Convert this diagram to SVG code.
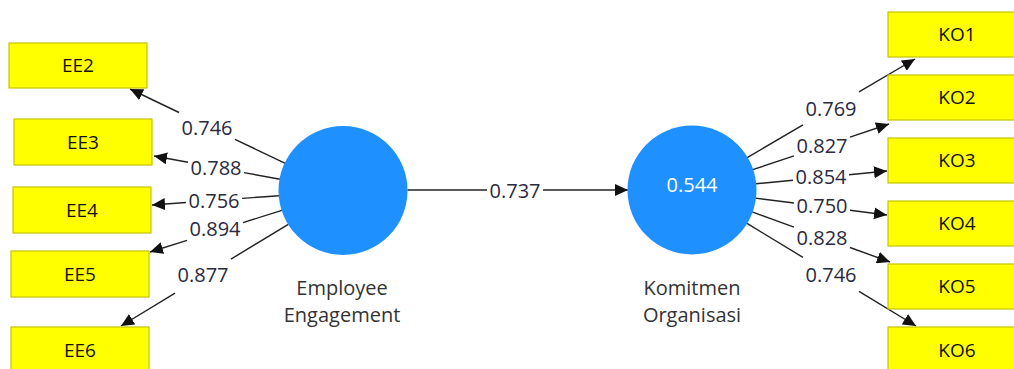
<svg xmlns="http://www.w3.org/2000/svg" width="1014" height="369" viewBox="0 0 1014 369">
<defs>
<style>
.box{fill:#ffff00;stroke:#c4c400;stroke-width:1.2}
.bt{font-family:"Open Sans","Noto Sans",sans-serif;font-size:19px;fill:#111;text-anchor:middle}
.lv{fill:#1e90ff}
.nt{font-family:"Open Sans","Noto Sans",sans-serif;font-size:20px;fill:#333;text-anchor:middle}
.lb{font-family:"Open Sans","Noto Sans",sans-serif;font-size:20px;fill:#2a2a40;text-anchor:middle}
.ln{stroke:#222;stroke-width:1.4;fill:none}
.ar{stroke:#222;stroke-width:1.4;fill:none;marker-end:url(#ah)}
</style>
<marker id="ah" viewBox="0 0 13 12" refX="13" refY="6" markerWidth="13" markerHeight="12" markerUnits="userSpaceOnUse" orient="auto">
<path d="M0,0 L13,6 L0,12 Z" fill="#111"/>
</marker>
</defs>
<rect width="1014" height="369" fill="#fff"/>
<g id="connectors">
<line class="ln" x1="285.3" y1="163.4" x2="235" y2="139.3"/><line class="ar" x1="179" y1="112.5" x2="130" y2="89"/>
<line class="ln" x1="280.1" y1="179.3" x2="244" y2="172.6"/><line class="ar" x1="188" y1="162.3" x2="154" y2="156"/>
<line class="ln" x1="279.2" y1="195.7" x2="242" y2="198.4"/><line class="ar" x1="186" y1="202.5" x2="152" y2="205"/>
<line class="ln" x1="281.9" y1="210.3" x2="243" y2="222.6"/><line class="ar" x1="187" y1="240.3" x2="150" y2="252"/>
<line class="ln" x1="288.3" y1="224.3" x2="231" y2="259.1"/><line class="ar" x1="175" y1="293.2" x2="121" y2="326"/>
<line class="ln" x1="407.5" y1="190" x2="487" y2="190"/><line class="ar" x1="543" y1="190" x2="628" y2="190"/>
<line class="ln" x1="747.2" y1="157.6" x2="803" y2="124.8"/><line class="ar" x1="859" y1="91.9" x2="915" y2="59"/>
<line class="ln" x1="752.7" y1="169.7" x2="794" y2="155.9"/><line class="ar" x1="850" y1="137.1" x2="889" y2="124"/>
<line class="ln" x1="755.7" y1="183.8" x2="793" y2="180.2"/><line class="ar" x1="849" y1="174.7" x2="887" y2="171"/>
<line class="ln" x1="755.5" y1="198.1" x2="794" y2="203"/><line class="ar" x1="850" y1="210.2" x2="887" y2="215"/>
<line class="ln" x1="752.1" y1="211.9" x2="794" y2="227.1"/><line class="ar" x1="850" y1="247.5" x2="890" y2="262"/>
<line class="ln" x1="746.7" y1="223.2" x2="803" y2="257.4"/><line class="ar" x1="859" y1="291.3" x2="916" y2="326"/>
<text class="lb" x="207" y="134.5">0.746</text>
<text class="lb" x="216" y="175">0.788</text>
<text class="lb" x="214" y="207.5">0.756</text>
<text class="lb" x="215" y="236">0.894</text>
<text class="lb" x="203" y="282">0.877</text>
<text class="lb" x="515" y="198">0.737</text>
<text class="lb" x="831" y="116">0.769</text>
<text class="lb" x="822" y="153">0.827</text>
<text class="lb" x="821" y="183.5">0.854</text>
<text class="lb" x="822" y="212.5">0.750</text>
<text class="lb" x="822" y="244.5">0.828</text>
<text class="lb" x="831" y="282">0.746</text>
</g>
<g id="EE2"><rect class="box" x="9" y="43" width="138" height="45"/><text class="bt" x="78" y="72">EE2</text></g>
<g id="EE3"><rect class="box" x="14" y="119" width="138" height="46"/><text class="bt" x="83" y="148.5">EE3</text></g>
<g id="EE4"><rect class="box" x="13" y="187" width="138" height="46"/><text class="bt" x="82" y="216.5">EE4</text></g>
<g id="EE5"><rect class="box" x="11" y="251" width="138" height="46"/><text class="bt" x="80" y="280.5">EE5</text></g>
<g id="EE6"><rect class="box" x="11" y="327" width="138" height="46"/><text class="bt" x="80" y="356.5">EE6</text></g>
<g id="KO1"><rect class="box" x="888" y="12" width="138" height="45"/><text class="bt" x="957" y="41">KO1</text></g>
<g id="KO2"><rect class="box" x="888" y="75" width="138" height="45"/><text class="bt" x="957" y="104">KO2</text></g>
<g id="KO3"><rect class="box" x="888" y="138" width="138" height="45"/><text class="bt" x="957" y="167">KO3</text></g>
<g id="KO4"><rect class="box" x="888" y="201" width="138" height="45"/><text class="bt" x="957" y="230">KO4</text></g>
<g id="KO5"><rect class="box" x="888" y="264" width="138" height="45"/><text class="bt" x="957" y="293">KO5</text></g>
<g id="KO6"><rect class="box" x="888" y="327" width="138" height="46"/><text class="bt" x="957" y="356.5">KO6</text></g>
<g id="EmployeeEngagement"><circle class="lv" cx="343" cy="190.5" r="64.5"/>
<text class="nt" x="342" y="295">Employee</text><text class="nt" x="342" y="322">Engagement</text></g>
<g id="KomitmenOrganisasi"><circle class="lv" cx="692" cy="190" r="64.5"/>
<text class="nt" x="692" y="192" style="fill:#fff">0.544</text>
<text class="nt" x="692" y="295">Komitmen</text><text class="nt" x="692" y="322">Organisasi</text></g>
</svg>
